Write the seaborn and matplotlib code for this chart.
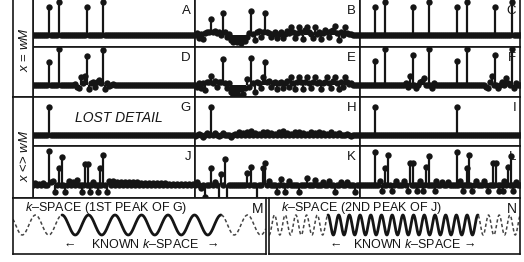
import numpy as np
import pandas as pd
import matplotlib
matplotlib.use("Agg")
import matplotlib.pyplot as plt
import seaborn as sns

# ---------------------------------------------------------------
# values (position in samples, amplitude)
# ---------------------------------------------------------------
a_pos = [8, 13, 27, 35]
a_val = [0.85, 1.0, 0.85, 1.0]

b_pos = [1, 2, 3, 4, 5, 6, 7, 8, 9, 10, 11, 12, 14, 15, 16, 17, 18, 19, 20, 21,
         22, 23, 24, 25, 26, 27, 28, 29, 30, 31, 32, 33, 34, 35, 36, 37, 38, 39, 40, 41,
         42, 43, 44, 45, 46, 47, 48, 49, 50, 51, 52, 53, 54, 55, 56, 57, 58, 59, 60, 61,
         62, 63, 64, 65, 66, 67, 68, 69, 70, 71, 72, 73, 75, 76, 77, 78]
b_val = [0.05, -0.08, 0.04, -0.12, 0.06, 0.1, 0.08, 0.48, 0.1, 0.12, 0.06, 0.1, 0.68, 0.08, -0.06, 0.04, -0.15, -0.22, -0.1, -0.2,
         -0.14, -0.24, -0.08, -0.18, -0.05, 0.06, 0.74, 0.02, -0.14, 0.1, 0.12, -0.05, 0.1, 0.66, 0.1, 0.05, -0.06, 0.02, 0.08, -0.1,
         0.04, 0.1, -0.08, 0.02, 0.12, 0.06, 0.25, 0.1, -0.1, 0.05, 0.25, 0.1, -0.12, 0.14, 0.25, 0.08, 0.02, -0.1, 0.25, 0.02,
         0.1, -0.12, 0.06, 0.15, 0.1, -0.05, 0.12, 0.15, 0.27, 0.05, -0.15, 0.1, 0.25, 0.05, 0.02, 0.04]

c_pos = [7.5, 12.5, 26.5, 34.5, 48.5, 53.5, 67.5, 76]
c_val = [0.85, 1.0, 0.85, 1.0, 0.85, 1.0, 0.85, 1.0]

d_pos = [8, 13, 27, 35, 21, 22, 23, 24, 25, 26, 28, 29, 30, 31, 32, 33, 34, 36, 37, 38, 40]
d_val = [0.70, 1.09, 0.88, 1.06, 0.03, -0.05, -0.09, 0.24, 0.05, 0.27, -0.12, 0.05, 0.08, -0.06, 0.1, 0.15, 0.05, -0.12, 0.06, -0.04, 0.04]

e_pos = [1, 2, 3, 4, 5, 6, 7, 8, 9, 10, 11, 12, 13, 14, 15, 16, 17, 18, 19, 20,
         21, 22, 23, 24, 25, 26, 27, 28, 29, 30, 31, 32, 33, 34, 35, 36, 37, 38, 39, 40,
         41, 42, 43, 44, 45, 46, 47, 48, 49, 50, 51, 52, 53, 54, 55, 56, 57, 58, 59, 60,
         61, 62, 63, 64, 65, 66, 67, 68, 69, 70, 71, 72, 73, 74, 75, 76, 77, 78]
e_val = [-0.05, 0.05, -0.1, 0.05, -0.15, 0.08, 0.1, 0.27, 0.05, 0.12, -0.05, 0.08, 0.1, 0.79, 0.06, -0.1, 0.05, -0.2, -0.3, -0.15,
         -0.25, -0.32, -0.12, -0.28, -0.1, 0.18, -0.05, 0.82, 0.05, -0.2, 0.1, 0.05, -0.1, 0.24, 0.70, 0.1, 0.12, -0.05, 0.05, 0.1,
         -0.12, 0.05, 0.1, -0.1, 0.05, 0.12, -0.05, 0.24, 0.05, -0.12, 0.08, 0.24, 0.1, -0.12, 0.1, 0.24, 0.05, -0.1, 0.08, 0.24,
         0.05, 0.1, -0.12, 0.05, 0.1, 0.24, 0.05, -0.1, 0.12, 0.24, 0.05, -0.12, 0.1, -0.05, 0.24, 0.08, 0.02, 0.05]

f_pos = [7.5, 12.5, 26.5, 34.5, 48.5, 53.5, 67.5, 76,
         23, 24, 25, 28, 30, 31, 32, 36, 37, 63, 64, 65, 66, 69, 71, 73, 74, 77, 78]
f_val = [0.74, 1.09, 0.91, 1.09, 0.74, 1.09, 0.91, 1.09,
         0.05, -0.05, 0.27, -0.1, 0.08, 0.12, 0.2, -0.1, 0.05, -0.05, -0.08, 0.08, 0.27, -0.1, 0.1, 0.2, 0.05, -0.1, 0.05]

g_pos = [8]
g_val = [0.85]

h_pos = [0, 2, 4, 6, 8, 10, 12, 14, 16, 18, 20, 22, 24, 26, 28, 30, 32, 34, 36, 38,
         40, 42, 44, 46, 48, 50, 52, 54, 56, 58, 60, 62, 64, 66, 68, 70, 72, 74, 76, 78, 80]
h_val = [-0.03, 0.03, -0.05, 0.05, 0.85, 0.05, -0.03, 0.05, 0.0, -0.06, 0.03, 0.08, 0.05, 0.1, 0.12, 0.06, 0.03, 0.08, 0.1, 0.05,
         0.02, 0.08, 0.12, 0.05, 0.03, 0.08, 0.1, 0.06, 0.02, 0.08, 0.05, 0.1, 0.06, 0.02, 0.08, 0.04, 0.06, 0.0, 0.04, -0.03, 0.0]

i_pos = [7.5, 48.5]
i_val = [0.85, 0.85]

j_pos = [8, 13, 14.5, 26, 27.5, 33.5, 35, 11, 16, 24.5, 28.5, 32.5, 37,
         1, 3, 5, 9, 10, 18, 20, 22, 30, 38, 40, 42, 44, 46, 48, 50, 52, 54, 56, 58, 60, 62, 64, 66, 68, 70, 72, 74, 76, 78, 80]
j_val = [1.03, 0.52, 0.85, 0.64, 0.64, 0.52, 0.91, -0.21, -0.21, -0.21, -0.21, -0.21, -0.21,
         0.05, 0.04, 0.06, 0.1, 0.12, 0.12, 0.1, 0.14, 0.08, 0.12, 0.12, 0.1, 0.1, 0.09, 0.09, 0.08, 0.08, 0.07, 0.07, 0.06, 0.06, 0.05, 0.05,
         0.05, 0.04, 0.04, 0.04, 0.03, 0.03, 0.03, 0.03]

k_pos = [8, 10, 13, 15, 26, 28, 34, 35, 12, 16, 31, 5,
         1, 3, 37, 41, 43, 45, 47, 52, 56, 60, 64, 67, 70, 73, 76, 80]
k_val = [0.52, 0.1, 0.33, 0.79, 0.36, 0.55, 0.52, 0.67, -0.7, -0.7, -0.7, -0.36,
         0.08, -0.08, 0.12, -0.2, 0.18, -0.2, 0.12, -0.2, 0.2, 0.15, 0.1, 0.12, -0.2, 0.1, 0.08, -0.2]

l_pos = [7.5, 12.5, 14, 25, 26.5, 33, 34.5, 48.5, 53.5, 54.5, 66.5, 68, 74, 75.5,
         11, 16, 24, 28.5, 31.5, 37.5, 51.5, 56, 64, 69.5, 71.5, 76.5,
         10, 18, 22, 30, 38, 41, 44, 50, 58, 62, 72, 78]
l_val = [1.0, 0.52, 0.91, 0.67, 0.67, 0.55, 0.88, 1.0, 0.52, 0.91, 0.67, 0.67, 0.55, 0.88,
         -0.18, -0.18, -0.18, -0.18, -0.18, -0.18, -0.18, -0.18, -0.18, -0.18, -0.18, -0.18,
         0.12, 0.12, 0.12, 0.12, 0.12, 0.1, 0.08, 0.12, 0.12, 0.12, 0.12, 0.1]

# bottom row: k-space sinusoids (period, known window, in panel pixels)
m_period = 26.5
m_known = [49, 208]
n_period = 10.7
n_known = [59, 209]

panel_letters = ["A", "B", "C", "D", "E", "F", "G", "H", "I", "J", "K", "L"]

# ---------------------------------------------------------------
sns.set_style("white")
plt.rcParams['font.family'] = ['Liberation Sans', 'DejaVu Sans']
plt.rcParams['mathtext.fontset'] = 'custom'
plt.rcParams['mathtext.it'] = 'Liberation Sans:italic'
plt.rcParams['mathtext.rm'] = 'Liberation Sans'

W, H = 524, 262
fig = plt.figure(figsize=(W / 100, H / 100), dpi=100)
INK = '#151515'


def add_ax(x0, y0, x1, y1):
    ax = fig.add_axes([x0 / W, 1 - y1 / H, (x1 - x0) / W, (y1 - y0) / H])
    ax.set_xticks([])
    ax.set_yticks([])
    for s in ax.spines.values():
        s.set_color(INK)
        s.set_linewidth(1.2)
    return ax


def ftext(x, y, s, **kw):
    fig.text(x / W, 1 - y / H, s, **kw)


def stem_panel(ax, pos, val, width):
    n = int(width // 2)
    base = [k for k in range(n + 2) if k not in pos]
    df = pd.DataFrame({'k': list(base) + list(pos), 'v': [0.0] * len(base) + list(val)})
    ax.vlines(pos, 0, val, color=INK, lw=1.6)
    sns.scatterplot(data=df, x='k', y='v', ax=ax, color=INK, s=21, linewidth=0,
                    legend=False)
    ax.set_xlim(0, width / 2)
    ax.set_xlabel('')
    ax.set_ylabel('')


cols = [(33, 195), (195, 360), (360, 520)]
rows = [(-3, 47, 35), (47, 97, 85), (97, 146, 135), (146, 198, 185)]
data = [(a_pos, a_val), (b_pos, b_val), (c_pos, c_val),
        (d_pos, d_val), (e_pos, e_val), (f_pos, f_val),
        (g_pos, g_val), (h_pos, h_val), (i_pos, i_val),
        (j_pos, j_val), (k_pos, k_val), (l_pos, l_val)]
scale = 33.0

for r, (top, bot, base) in enumerate(rows):
    for c, (left, right) in enumerate(cols):
        idx = r * 3 + c
        ax = add_ax(left, top, right, bot)
        pos, val = data[idx]
        stem_panel(ax, pos, val, right - left)
        ax.set_ylim(-(bot - base) / scale, (base - top) / scale)
        ftext(right - 4, max(top, 0) + 5, panel_letters[idx], ha='right', va='top',
              fontsize=9.5, color=INK)

ftext(75, 118, 'LOST DETAIL', ha='left', va='center', fontsize=10, style='italic', color=INK)

# row labels column
add_ax(13, -3, 33, 97)
add_ax(13, 97, 33, 198)
ftext(24, 50, r'$x$ = $wM$', rotation=90, ha='center', va='center', fontsize=9.5, color=INK)
ftext(24, 156, r'$x$ <> $wM$', rotation=90, ha='center', va='center', fontsize=9.5, color=INK)


def wave_panel(x0, x1, period, known, title, letter):
    ax = add_ax(x0, 198, x1, 254)
    width = x1 - x0
    xs = np.arange(0, width, 0.25)
    ys = 27 - 10 * np.cos(2 * np.pi * (xs - known[0]) / period)
    df = pd.DataFrame({'x': xs, 'y': ys})
    inside = (df.x >= known[0]) & (df.x <= known[1])
    sns.lineplot(data=df[inside], x='x', y='y', ax=ax, color=INK, lw=2.0,
                 estimator=None, sort=False)
    for part in (df[df.x < known[0]], df[df.x > known[1]]):
        sns.lineplot(data=part, x='x', y='y', ax=ax, color='#444444', lw=1.1,
                     estimator=None, sort=False, linestyle=(0, (2.2, 1.6)))
    ax.set_xlim(0, width)
    ax.set_ylim(56, 0)
    ax.set_xlabel('')
    ax.set_ylabel('')
    mid = (known[0] + known[1]) / 2
    ax.text(known[0] + 8, 47, '\u2190', ha='center', va='center', fontsize=9, color=INK)
    ax.text(known[1] - 8, 47, '\u2192', ha='center', va='center', fontsize=9, color=INK)
    ax.text(mid + 4, 47, 'KNOWN $k$\u2013SPACE', ha='center', va='center', fontsize=9, color=INK)
    ax.text(12, 10, title, ha='left', va='center', fontsize=9, color=INK)
    ax.text(width - 3, 4, letter, ha='right', va='top', fontsize=10, color=INK)


wave_panel(13, 266, m_period, m_known, '$k$\u2013SPACE (1ST PEAK OF G)', 'M')
wave_panel(269, 520, n_period, n_known, '$k$\u2013SPACE (2ND PEAK OF J)', 'N')

fig.savefig('out.png', dpi=100)
